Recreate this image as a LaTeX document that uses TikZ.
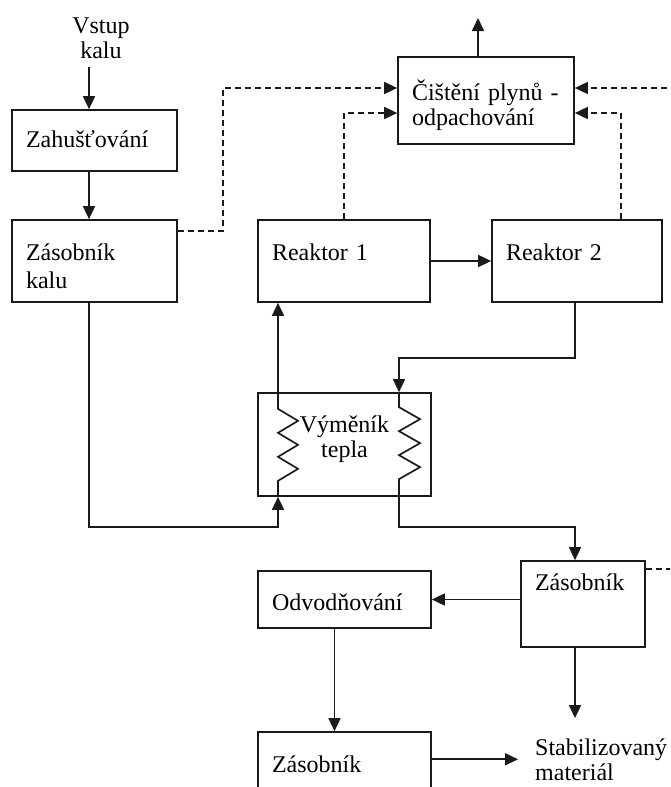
\documentclass[tikz,border=0pt]{standalone}
\usepackage{fontspec}
\setmainfont{Liberation Serif}
\usetikzlibrary{arrows.meta,calc}
\definecolor{flowblack}{HTML}{1A1A1A}

\begin{document}
\begin{tikzpicture}[x=1pt,y=-1pt,
    font=\fontsize{24}{25}\selectfont,
    box/.style={draw=flowblack,line width=1.7pt,align=left,inner xsep=14pt,inner ysep=2pt},
    txt/.style={inner sep=0pt},
    arr/.style={-{Triangle[length=13pt,width=12pt]},line width=1.7pt,flowblack},
    dsh/.style={arr,dash pattern=on 6pt off 4pt}]
  \useasboundingbox (0,0) rectangle (670,787);
  \clip (0,0) rectangle (670,787);
  % columns and rows of the pipes
  \coordinate (colA) at (89,0);
  \coordinate (colL) at (278,0);
  \coordinate (colR) at (399,0);
  \coordinate (colB) at (575,0);
  \coordinate (rowM) at (0,358);
  \coordinate (rowU) at (0,527);
  \coordinate (gasout) at (478,18);

  \node[txt,align=center,anchor=base,inner ysep=9pt] (vstup) at (101,58) {Vstup\\kalu};
  \node[box,text width=137pt,minimum height=61pt,text height=17pt,text depth=4pt] (zah) at (94.5,140.5) {Zahušťování};
  \node[box,text width=137pt,minimum height=82pt,text height=34pt,text depth=36pt] (zk) at (94.5,261) {Zásobník\\[3pt]kalu};
  \node[box,text width=148pt,minimum height=87pt,text height=30pt,text depth=31pt] (cis) at (486,100.5) {Čištění plynů -\\odpachování};
  \node[box,text width=144pt,minimum height=82pt,text height=20pt,text depth=22pt] (r1) at (344,261) {Reaktor 1};
  \node[box,text width=142pt,minimum height=82pt,text height=20pt,text depth=22pt] (r2) at (577,261) {Reaktor 2};
  \node[box,align=center,text width=145pt,minimum height=103pt,text height=20pt,text depth=45pt] (vym) at (344.5,444.5) {Výměník\\tepla};
  \node[box,text width=96pt,minimum height=86pt,text height=20pt,text depth=48pt] (zr) at (583,604) {Zásobník};
  \node[box,text width=145pt,minimum height=57pt,text height=30pt,text depth=9pt] (odv) at (344.5,599.5) {Odvodňování};
  \node[box,text width=145pt,minimum height=80pt,text height=20pt,text depth=20pt] (zb) at (344.5,772) {Zásobník};
  \node[txt,align=left,anchor=base west,inner xsep=17pt,inner ysep=20pt] (stab) at (518,780) {Stabilizovaný\\materiál};

  \draw[arr] (vstup.south -| colA) -- (zah.north -| colA);
  \draw[arr] (zah.south -| colA) -- (zk.north -| colA);
  \draw[arr] (cis.north -| gasout) -- (gasout);
  \draw[arr] (r1.east) -- (r2.west);
  % gases to the scrubber
  \draw[dsh] ([yshift=-12pt]zk.north east) -- ++(45,0) |- ([yshift=12.5pt]cis.west);
  \draw[dsh] (r1.north) |- ([yshift=-12.5pt]cis.west);
  \draw[dsh] ([xshift=44pt]r2.north) |- ([yshift=-12.5pt]cis.east);
  \draw[dsh] ([yshift=-9pt]zr.north east) -- ++(60,0) |- ([yshift=12.5pt]cis.east);
  % sludge through the heat exchanger
  \draw[arr] (zk.south -| colA) |- (rowU -| colL) -- (vym.south -| colL);
  \draw[arr] (vym.south -| colL) -- ++(0,-16)
    \foreach \k in {1,2,3} { -- ++(20,-12) -- ++(-20,-12) } -- (r1.south -| colL);
  \draw[arr] (r2.south -| colB) |- (rowM -| colR) -- (vym.north -| colR);
  \draw[arr] (vym.north -| colR) -- ++(0,15)
    \foreach \k in {1,2,3} { -- ++(21,12) -- ++(-21,12) } |- (rowU -| colB) -- (zr.north -| colB);
  \draw[arr] (zr.west |- odv.east) -- (odv.east);
  \draw[arr] ([xshift=-10pt]odv.south) -- ([xshift=-10pt]zb.north);
  \draw[arr] (zb.east |- stab.west) -- (stab.west);
  \draw[arr] ([xshift=-8pt]zr.south) -- ([xshift=-8pt]zr.south |- stab.north);
\end{tikzpicture}
\end{document}
